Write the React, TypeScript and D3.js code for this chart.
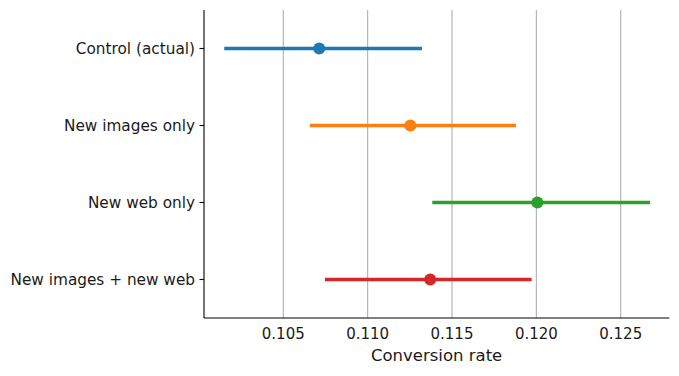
import React from "react";
import * as d3 from "d3";

const categories = ["Control (actual)", "New images only", "New web only", "New images + new web"];
const means = [0.10713, 0.11253, 0.12006, 0.11371];
const ciLow = [0.1015, 0.10658, 0.11383, 0.10747];
const ciHigh = [0.11322, 0.11879, 0.12674, 0.11972];
const colors = ["#1f77b4", "#ff7f0e", "#2ca02c", "#d62728"];
const xTicks = [0.105, 0.11, 0.115, 0.12, 0.125];
const xLabel = "Conversion rate";

const W = 679, H = 376;
const left = 204, right = 669.3, top = 10, bottom = 318;
const FONT = "DejaVu Sans, sans-serif";

export default function App() {
  const x = d3.scaleLinear().domain([0.1003, 0.12788]).range([left, right]);
  const y = d3.scaleBand().domain(categories).range([top, bottom]).padding(0);
  const yc = (c: string) => (y(c) as number) + y.bandwidth() / 2;
  const fmt = d3.format(".3f");
  return (
    <svg width={W} height={H} style={{ position: "absolute", left: 0, top: 0, background: "#fff" }} fontFamily={FONT}>
      {xTicks.map((t) => (
        <g key={t}>
          <line x1={x(t)} x2={x(t)} y1={top} y2={bottom} stroke="#b0b0b0" strokeWidth={1.1} />
          <text x={x(t)} y={339} textAnchor="middle" fontSize={15} fill="#1a1a1a">{fmt(t)}</text>
        </g>
      ))}
      {categories.map((c, i) => (
        <g key={c}>
          <line x1={x(ciLow[i])} x2={x(ciHigh[i])} y1={yc(c)} y2={yc(c)} stroke={colors[i]} strokeWidth={3.6} />
          <circle cx={x(means[i])} cy={yc(c)} r={6} fill={colors[i]} />
          <line x1={left - 4.5} x2={left} y1={yc(c)} y2={yc(c)} stroke="#000" strokeWidth={1.1} />
          <text x={195} y={yc(c)} dy="0.36em" textAnchor="end" fontSize={15.3} fill="#1a1a1a">{c}</text>
        </g>
      ))}
      <line x1={left} x2={left} y1={top} y2={bottom} stroke="#000" strokeWidth={1.1} />
      <line x1={left} x2={right} y1={bottom} y2={bottom} stroke="#000" strokeWidth={1.1} />
      <text x={(left + right) / 2} y={361} textAnchor="middle" fontSize={16.5} fill="#1a1a1a">{xLabel}</text>
    </svg>
  );
}
